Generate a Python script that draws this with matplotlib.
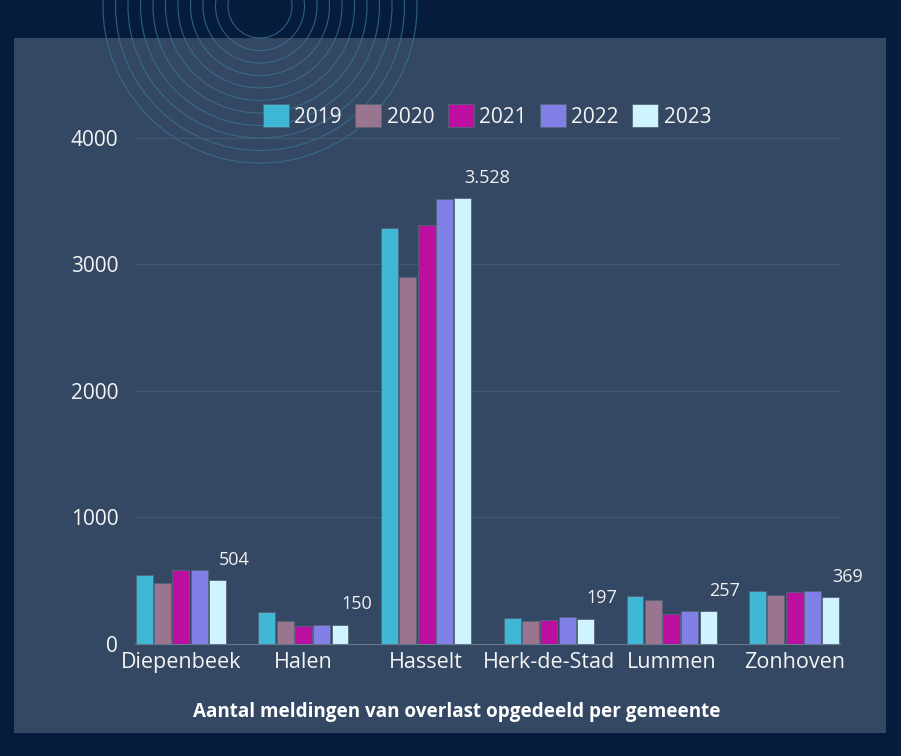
import numpy as np
import matplotlib.pyplot as plt
from matplotlib.patches import Rectangle, Circle

# data
gemeenten = ['Diepenbeek', 'Halen', 'Hasselt', 'Herk-de-Stad', 'Lummen', 'Zonhoven']
jaren = ['2019', '2020', '2021', '2022', '2023']
v2019 = [540, 247, 3289, 200, 376, 416]
v2020 = [480, 178, 2903, 180, 344, 385]
v2021 = [582, 141, 3312, 188, 236, 408]
v2022 = [580, 148, 3521, 211, 259, 416]
v2023 = [504, 150, 3528, 197, 257, 369]
labels_2023 = ['504', '150', '3.528', '197', '257', '369']

kleuren = ['#3fb8d6', '#9a758f', '#bc0fa0', '#8080e6', '#d0f4ff']
waarden = [v2019, v2020, v2021, v2022, v2023]

plt.rcParams['font.family'] = ['Open Sans', 'DejaVu Sans']

W, H = 901, 756
fig = plt.figure(figsize=(W / 100, H / 100), dpi=100)
fig.patch.set_facecolor('#061c3d')

# background axes in pixel coords for the panel and the decorative rings
bg = fig.add_axes([0, 0, 1, 1])
bg.set_xlim(0, W)
bg.set_ylim(H, 0)
bg.axis('off')
bg.add_patch(Rectangle((14, 38), 872, 695, facecolor='#344863', edgecolor='none', zorder=0))
for r in np.arange(32, 160, 12.5):
    bg.add_patch(Circle((260, 6), r, fill=False, edgecolor='#3b7696', lw=0.8, alpha=0.75, zorder=1))

ax = fig.add_axes([135 / W, (H - 643.5) / H, (840 - 135) / W, (643.5 - 138) / H])
ax.set_facecolor('none')

x = np.arange(len(gemeenten))
slot = 0.149
breedte = 0.138
for i, (jaar, vals, kl) in enumerate(zip(jaren, waarden, kleuren)):
    ax.bar(x + (i - 2) * slot, vals, width=breedte, color=kl, label=jaar,
           edgecolor='#55657c', linewidth=0.6, zorder=3)

for xi, v, t in zip(x, v2023, labels_2023):
    ax.annotate(t, (xi + 2 * slot, v), xytext=(1, 8), textcoords='offset points',
                ha='left', va='bottom', color='#f0f0f0', fontsize=13)

ax.set_xlim(-0.373, len(gemeenten) - 1 + 0.373)
ax.set_ylim(0, 4000)
ax.set_yticks([0, 1000, 2000, 3000, 4000])
ax.set_xticks(x)
ax.set_xticklabels(gemeenten)
ax.tick_params(axis='both', length=0, colors='#f4f4f4')
ax.tick_params(axis='y', pad=12, labelsize=15)
ax.tick_params(axis='x', pad=6, labelsize=15.5)
ax.grid(axis='y', color='#45586f', lw=0.8, zorder=0)
for s in ['top', 'right', 'left']:
    ax.spines[s].set_visible(False)
ax.spines['bottom'].set_color('#6c7a8c')
ax.spines['bottom'].set_zorder(4)

leg = ax.legend(loc='center', bbox_to_anchor=(487 / W, 1 - 116 / H), bbox_transform=fig.transFigure,
                ncol=5, frameon=False, fontsize=15, handlelength=1.25, handleheight=1.25,
                handletextpad=0.25, columnspacing=0.65, labelcolor='#f4f4f4')

fig.text(457 / W, 1 - 712 / H, 'Aantal meldingen van overlast opgedeeld per gemeente',
         ha='center', va='center', color='white', fontsize=13.6, fontweight='bold')

fig.savefig('out.png', dpi=100, facecolor=fig.get_facecolor())
